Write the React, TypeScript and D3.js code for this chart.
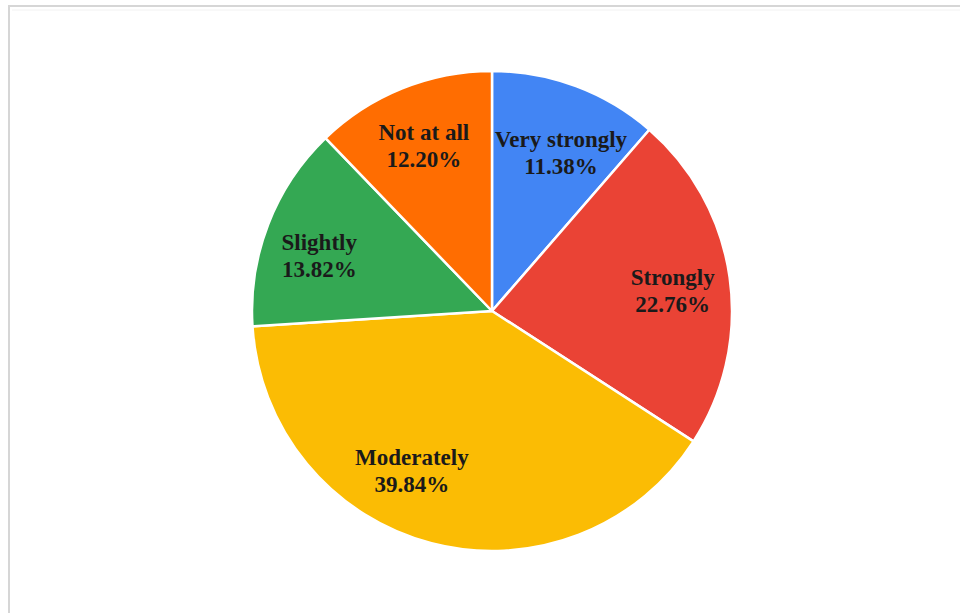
import React from "react";
import * as d3 from "d3";

const categories = ["Very strongly", "Strongly", "Moderately", "Slightly", "Not at all"];
const values = [11.38, 22.76, 39.84, 13.82, 12.2];
const valueLabels = ["11.38%", "22.76%", "39.84%", "13.82%", "12.20%"];
const colors = ["#4285F4", "#EA4335", "#FBBC04", "#34A853", "#FF6D01"];

const W = 960;
const H = 613;
const CX = 492;
const CY = 311;
const R = 240;
const LABEL_R = 182;
const labelAngleNudge = [0.05, 0.02, 0.215, -0.05, -0.005];
const labelRadiusNudge = [-8, 0, -5, 0, -2];

export default function App() {
  const pie = d3
    .pie<number>()
    .sort(null)
    .value((d) => d)
    .startAngle(0)
    .endAngle(2 * Math.PI);
  const arcs = pie(values);
  const arcGen = d3.arc<d3.PieArcDatum<number>>().innerRadius(0).outerRadius(R);

  return (
    <svg
      width={W}
      height={H}
      style={{ position: "absolute", left: 0, top: 0, display: "block", background: "#fff" }}
    >
      <line x1={8} y1={6} x2={W} y2={6} stroke="#d6d6d6" strokeWidth={2} />
      <line x1={9} y1={5} x2={9} y2={H} stroke="#d6d6d6" strokeWidth={2} />
      <line x1={12} y1={10} x2={W} y2={10} stroke="#f2f2f2" strokeWidth={1} />
      <g transform={`translate(${CX},${CY})`}>
        {arcs.map((a, i) => (
          <path
            key={categories[i]}
            d={arcGen(a) || ""}
            fill={colors[i]}
            stroke="#ffffff"
            strokeWidth={2.5}
            strokeLinejoin="round"
          />
        ))}
        {arcs.map((a, i) => {
          const ang = (a.startAngle + a.endAngle) / 2 + labelAngleNudge[i];
          const r = LABEL_R + labelRadiusNudge[i];
          const x = Math.sin(ang) * r;
          const y = -Math.cos(ang) * r;
          return (
            <text
              key={"l" + i}
              x={x}
              y={y}
              textAnchor="middle"
              fontFamily="'Liberation Serif', 'Times New Roman', serif"
              fontWeight="bold"
              fontSize={23}
              fill="#1a1a1a"
            >
              <tspan x={x} dy={-4}>
                {categories[i]}
              </tspan>
              <tspan x={x} dy={27}>
                {valueLabels[i]}
              </tspan>
            </text>
          );
        })}
      </g>
    </svg>
  );
}
